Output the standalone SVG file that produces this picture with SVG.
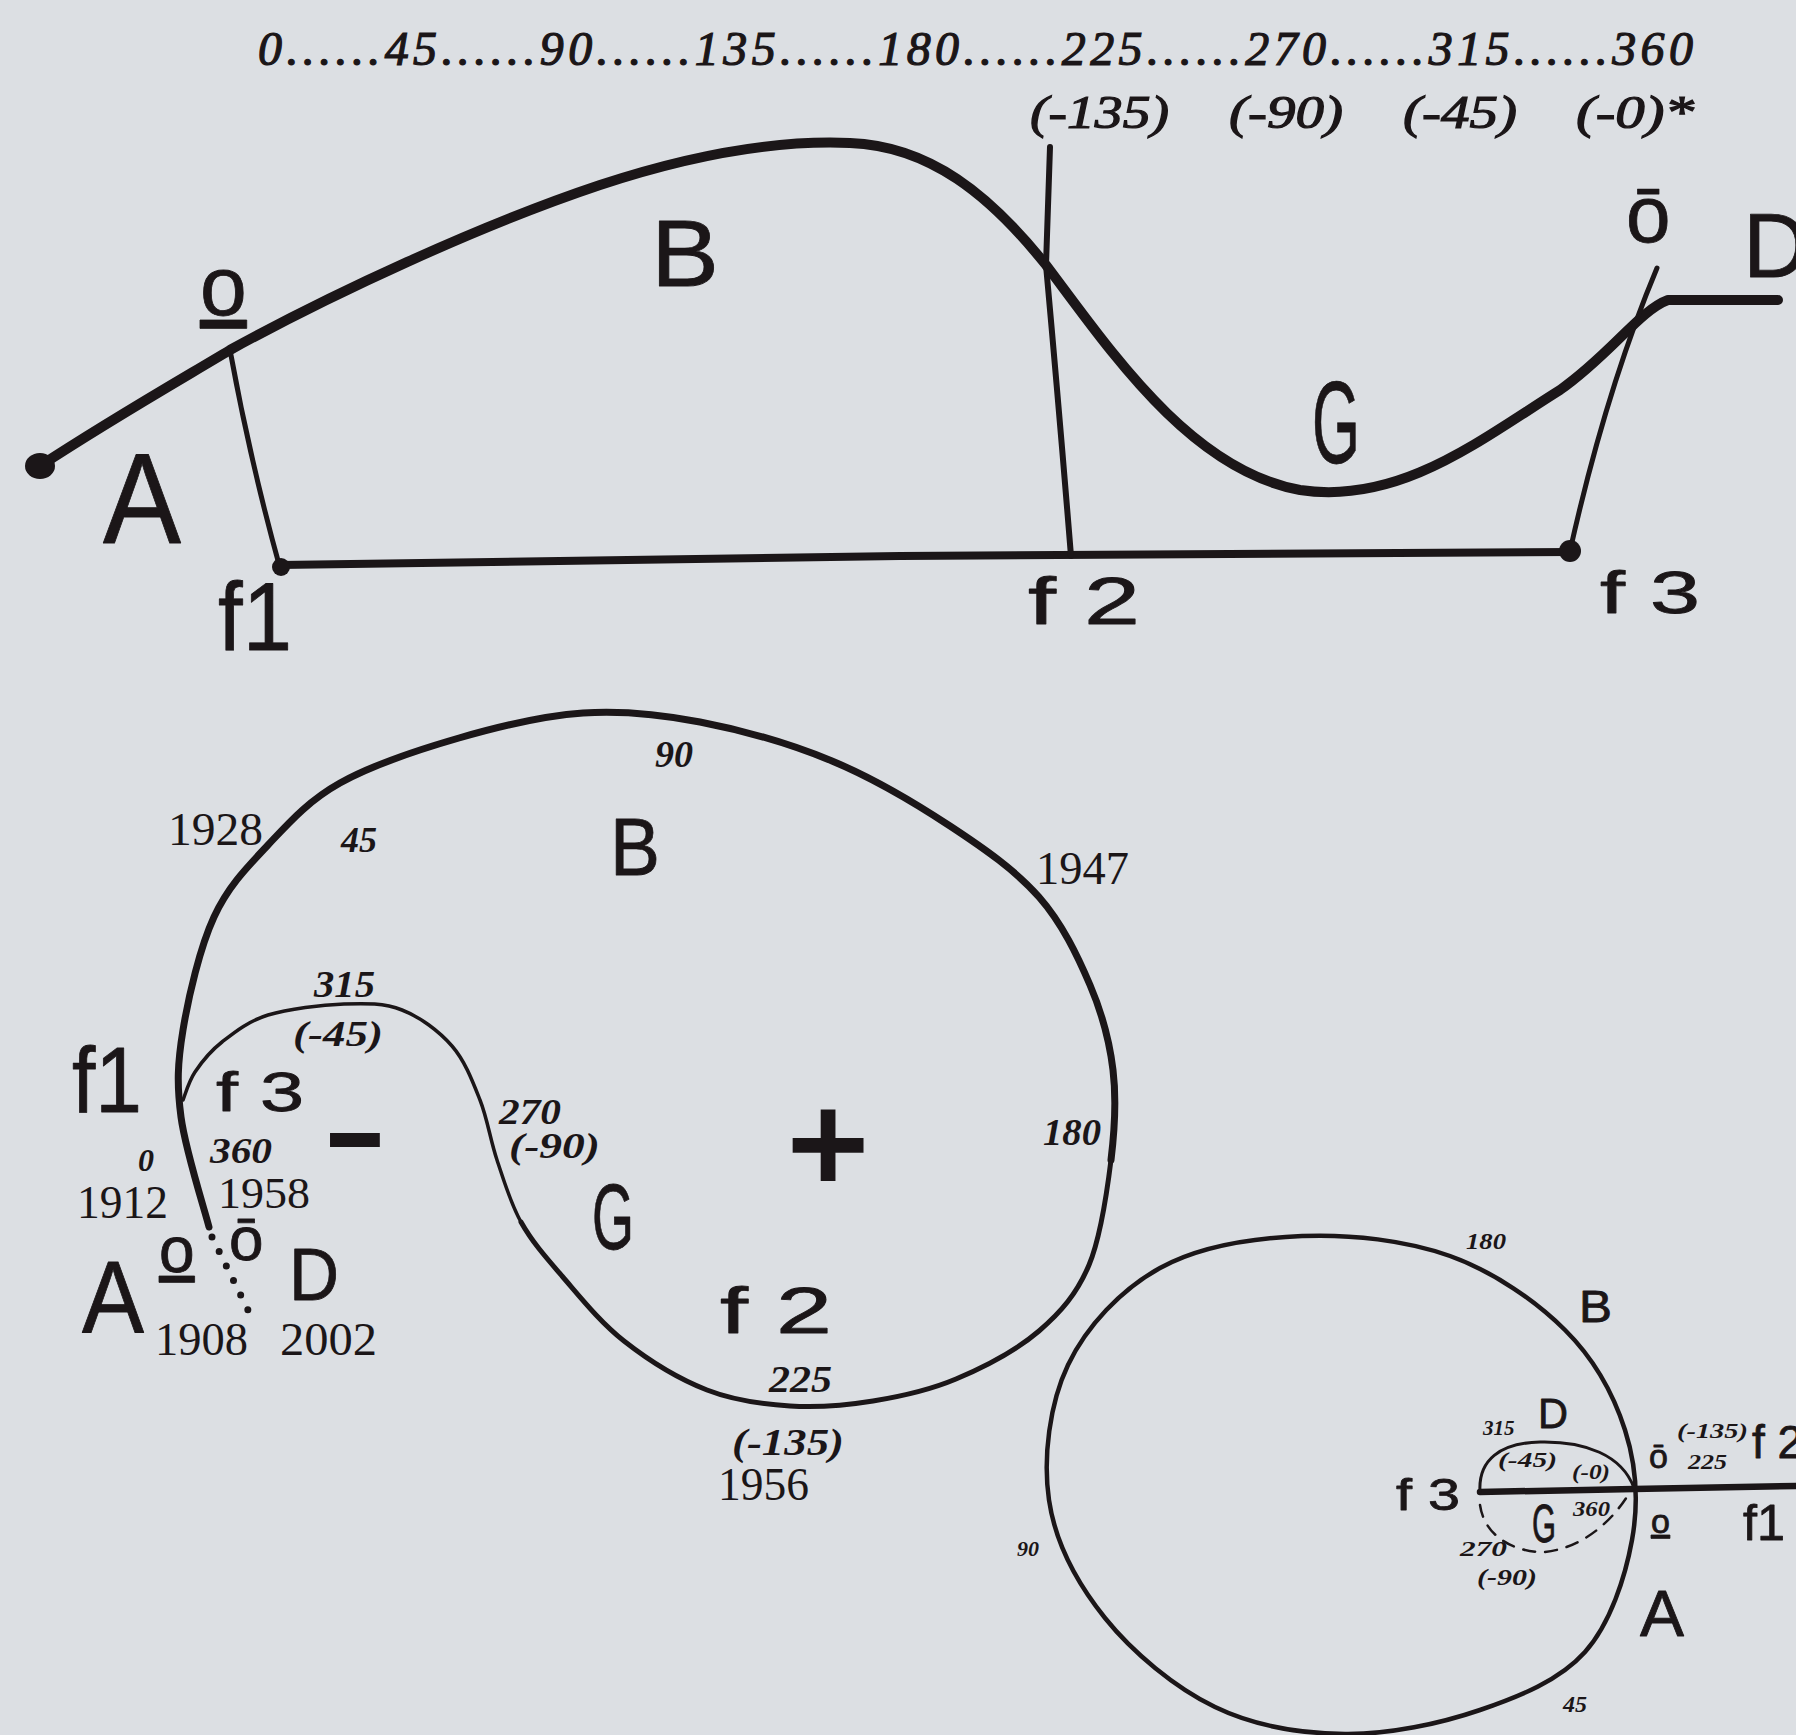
<svg xmlns="http://www.w3.org/2000/svg" width="1796" height="1735" viewBox="0 0 1796 1735">
<style>
.ink{fill:none;stroke:#1b1618;stroke-linecap:round;stroke-linejoin:round}
.dot{fill:#1b1618}
.hand{font-family:"Liberation Sans","DejaVu Sans",sans-serif;fill:#1b1618;stroke:#1b1618;stroke-width:0.8;stroke-linejoin:round}
.u{text-decoration:underline}
.ax{font-family:"Liberation Serif","DejaVu Serif",serif;font-style:italic;fill:#1b1618;stroke:#1b1618;stroke-width:1.2}
.bi{font-family:"Liberation Serif","DejaVu Serif",serif;font-style:italic;font-weight:bold;fill:#1b1618}
.yr{font-family:"Liberation Serif","DejaVu Serif",serif;fill:#1b1618}
.sym{font-family:"DejaVu Sans",sans-serif;font-weight:bold;fill:#1b1618;stroke:#1b1618;text-anchor:middle}
</style>
<rect width="1796" height="1735" fill="#dcdfe3"/>

<g id="connectors">
  <!-- top diagram -->
  <path class="ink" stroke-width="10" d="M40 466 C110 420 180 380 230 350 C330 295 480 225 600 185 C700 152 780 140 850 143 C930 146 990 195 1046 265 C1110 350 1190 470 1300 490 C1400 505 1480 440 1560 390 C1610 355 1640 310 1668 300 L1778 300"/>
  <path class="ink" stroke-width="5" d="M230 350 Q250 460 280 568"/>
  <path class="ink" stroke-width="8" d="M280 565 L900 556 L1571 552"/>
  <path class="ink" stroke-width="6" d="M1050 147 L1046 265 Q1060 420 1071 556"/>
  <path class="ink" stroke-width="5" d="M1570 551 Q1606 390 1657 268"/>
  <!-- spiral diagram -->
  <path class="ink" stroke-width="7" d="M209 1227 C204.3 1208.7 185.3 1149.8 181 1117 C176.7 1084.2 177.5 1063.3 183 1030 C188.5 996.7 199.8 947.8 214 917 C228.2 886.2 247 867.3 268 845 C289 822.7 308.2 800.8 340 783 C371.8 765.2 418.5 749.7 459 738 C499.5 726.3 542.8 715.7 583 713 C623.2 710.3 658.5 714 700 722 C741.5 730 790.3 743.7 832 761 C873.7 778.3 915.5 803.3 950 826 C984.5 848.7 1015.7 870.5 1039 897 C1062.3 923.5 1077.7 956.2 1090 985 C1102.3 1013.8 1109.5 1040.8 1113 1070 C1116.5 1099.2 1115 1127.5 1111 1160"/>
  <path class="ink" stroke-width="5" d="M1111 1160 C1107 1192.5 1101 1236.5 1089 1265 C1077 1293.5 1061.2 1312 1039 1331 C1016.8 1350 983.7 1367.3 956 1379 C928.3 1390.7 900.7 1396.5 873 1401 C845.3 1405.5 817.7 1407.8 790 1406 C762.3 1404.2 734.7 1400.8 707 1390 C679.3 1379.2 648.2 1360 624 1341 C599.8 1322 579.2 1295.8 562 1276 C544.8 1256.2 531.8 1241.3 521 1222"/>
  <path class="ink" stroke-width="3.5" d="M521 1222 C510.2 1202.7 503.8 1180.3 497 1160 C490.2 1139.7 487.5 1119 480 1100 C472.5 1081 465 1061 452 1046 C439 1031 420 1017 402 1010 C384 1003 366.3 1003.2 344 1004 C321.7 1004.8 288.3 1008.7 268 1015 C247.7 1021.3 234.2 1032.5 222 1042 C209.8 1051.5 201.5 1062.3 195 1072 C188.5 1081.7 185 1095.3 183 1100"/>
  <path class="ink" stroke-width="7" stroke-dasharray="0 16.2" d="M212 1237 L248 1310"/>
  <!-- circle diagram -->
  <path class="ink" stroke-width="4.5" d="M1302 1236 C1350.3 1234 1406.2 1240.3 1450 1256 C1493.8 1271.7 1535.8 1301 1565 1330 C1594.2 1359 1613.8 1395 1625 1430 C1636.2 1465 1638.7 1503 1632 1540 C1625.3 1577 1610.3 1623.7 1585 1652 C1559.7 1680.3 1520 1696.3 1480 1710 C1440 1723.7 1389.2 1734.5 1345 1734 C1300.8 1733.5 1255 1726.3 1215 1707 C1175 1687.7 1132.7 1652.5 1105 1618 C1077.3 1583.5 1055.2 1542.2 1049 1500 C1042.8 1457.8 1049.5 1403.7 1068 1365 C1086.5 1326.3 1121 1289.5 1160 1268 C1199 1246.5 1253.7 1238 1302 1236 Z"/>
  <path class="ink" stroke-width="6.5" d="M1480 1492 L1634 1489 L1796 1486"/>
  <path class="ink" stroke-width="3" d="M1480 1492 C1478 1460 1500 1443 1540 1442 C1585 1441 1622 1455 1634 1488"/>
  <path class="ink" stroke-width="2.5" stroke-dasharray="12 10" d="M1480 1505 C1485 1540 1520 1553 1545 1552 C1580 1548 1610 1525 1630 1492"/>
</g>

<g id="top-diagram">
  <ellipse class="dot" cx="40" cy="466" rx="15" ry="13"/>
  <circle class="dot" cx="281" cy="567" r="9"/>
  <circle class="dot" cx="1570" cy="551" r="11"/>
  <text class="ax" x="258" y="65" font-size="48" textLength="1435" lengthAdjust="spacing">0......45......90......135......180......225......270......315......360</text>
  <text class="ax" x="1030" y="128" font-size="46" textLength="139" lengthAdjust="spacingAndGlyphs">(-135)</text>
  <text class="ax" x="1229" y="128" font-size="46" textLength="114" lengthAdjust="spacingAndGlyphs">(-90)</text>
  <text class="ax" x="1403" y="128" font-size="46" textLength="114" lengthAdjust="spacingAndGlyphs">(-45)</text>
  <text class="ax" x="1576" y="128" font-size="46" textLength="118" lengthAdjust="spacingAndGlyphs">(-0)*</text>
  <text class="hand" x="103" y="543" font-size="128" textLength="78" lengthAdjust="spacingAndGlyphs">A</text>
  <text class="hand" x="651" y="286" font-size="95" textLength="68" lengthAdjust="spacingAndGlyphs">B</text>
  <text class="hand" x="1312" y="463" font-size="116" textLength="48" lengthAdjust="spacingAndGlyphs">G</text>
  <text class="hand" x="1743" y="277" font-size="91">D</text>
  <text class="hand u" x="200" y="315" font-size="84">o</text>
  <text class="hand" x="1626" y="242" font-size="80">ō</text>
  <text class="hand" x="218" y="650" font-size="96" textLength="74" lengthAdjust="spacingAndGlyphs">f1</text>
  <text class="hand" x="1028" y="624" font-size="66" textLength="112" lengthAdjust="spacingAndGlyphs">f 2</text>
  <text class="hand" x="1600" y="613" font-size="60" textLength="100" lengthAdjust="spacingAndGlyphs">f 3</text>
</g>

<g id="spiral-diagram">
  <text class="yr" x="168" y="845" font-size="47" textLength="95" lengthAdjust="spacingAndGlyphs">1928</text>
  <text class="bi" x="341" y="852" font-size="36">45</text>
  <text class="bi" x="655" y="767" font-size="38">90</text>
  <text class="hand" x="610" y="875" font-size="82" textLength="50" lengthAdjust="spacingAndGlyphs">B</text>
  <text class="yr" x="1036" y="884" font-size="47" textLength="93" lengthAdjust="spacingAndGlyphs">1947</text>
  <text class="bi" x="314" y="997" font-size="37" textLength="61" lengthAdjust="spacingAndGlyphs">315</text>
  <text class="bi" x="293" y="1046" font-size="36" textLength="90" lengthAdjust="spacingAndGlyphs">(-45)</text>
  <text class="hand" x="72" y="1112" font-size="92" textLength="70" lengthAdjust="spacingAndGlyphs">f1</text>
  <text class="hand" x="216" y="1111" font-size="56" textLength="88" lengthAdjust="spacingAndGlyphs">f 3</text>
  <text class="sym" x="355" y="1162" font-size="70" stroke-width="6">−</text>
  <text class="sym" x="828" y="1180" font-size="110" stroke-width="2">+</text>
  <text class="bi" x="138" y="1171" font-size="32">0</text>
  <text class="bi" x="210" y="1163" font-size="36" textLength="62" lengthAdjust="spacingAndGlyphs">360</text>
  <text class="yr" x="77" y="1218" font-size="47" textLength="91" lengthAdjust="spacingAndGlyphs">1912</text>
  <text class="yr" x="218" y="1208" font-size="45" textLength="92" lengthAdjust="spacingAndGlyphs">1958</text>
  <text class="hand u" x="159" y="1272" font-size="64">o</text>
  <text class="hand" x="229" y="1260" font-size="62">ō</text>
  <text class="hand" x="289" y="1300" font-size="74" textLength="50" lengthAdjust="spacingAndGlyphs">D</text>
  <text class="hand" x="82" y="1333" font-size="102" textLength="62" lengthAdjust="spacingAndGlyphs">A</text>
  <text class="yr" x="155" y="1355" font-size="47" textLength="93" lengthAdjust="spacingAndGlyphs">1908</text>
  <text class="yr" x="280" y="1355" font-size="47" textLength="97" lengthAdjust="spacingAndGlyphs">2002</text>
  <text class="bi" x="499" y="1124" font-size="35" textLength="62" lengthAdjust="spacingAndGlyphs">270</text>
  <text class="bi" x="509" y="1158" font-size="35" textLength="91" lengthAdjust="spacingAndGlyphs">(-90)</text>
  <text class="hand" x="592" y="1249" font-size="92" textLength="42" lengthAdjust="spacingAndGlyphs">G</text>
  <text class="bi" x="1043" y="1145" font-size="38" textLength="58" lengthAdjust="spacingAndGlyphs">180</text>
  <text class="hand" x="720" y="1333" font-size="64" textLength="112" lengthAdjust="spacingAndGlyphs">f 2</text>
  <text class="bi" x="769" y="1392" font-size="38" textLength="63" lengthAdjust="spacingAndGlyphs">225</text>
  <text class="bi" x="732" y="1455" font-size="38" textLength="112" lengthAdjust="spacingAndGlyphs">(-135)</text>
  <text class="yr" x="718" y="1500" font-size="47" textLength="91" lengthAdjust="spacingAndGlyphs">1956</text>
</g>

<g id="circle-diagram">
  <text class="bi" x="1466" y="1249" font-size="24" textLength="40" lengthAdjust="spacingAndGlyphs">180</text>
  <text class="hand" x="1579" y="1322" font-size="45" textLength="33" lengthAdjust="spacingAndGlyphs">B</text>
  <text class="bi" x="1017" y="1556" font-size="22">90</text>
  <text class="bi" x="1563" y="1712" font-size="24">45</text>
  <text class="bi" x="1483" y="1435" font-size="21">315</text>
  <text class="hand" x="1538" y="1428" font-size="43" textLength="30" lengthAdjust="spacingAndGlyphs">D</text>
  <text class="bi" x="1498" y="1467" font-size="22" textLength="59" lengthAdjust="spacingAndGlyphs">(-45)</text>
  <text class="bi" x="1572" y="1479" font-size="20" textLength="38" lengthAdjust="spacingAndGlyphs">(-0)</text>
  <text class="hand" x="1649" y="1468" font-size="34">ō</text>
  <text class="bi" x="1677" y="1438" font-size="22" textLength="71" lengthAdjust="spacingAndGlyphs">(-135)</text>
  <text class="bi" x="1688" y="1469" font-size="22" textLength="39" lengthAdjust="spacingAndGlyphs">225</text>
  <text class="hand" x="1752" y="1458" font-size="46">f 2</text>
  <text class="hand" x="1396" y="1510" font-size="44" textLength="64" lengthAdjust="spacingAndGlyphs">f 3</text>
  <text class="hand" x="1743" y="1540" font-size="50" textLength="42" lengthAdjust="spacingAndGlyphs">f1</text>
  <text class="hand u" x="1651" y="1533" font-size="34">o</text>
  <text class="hand" x="1532" y="1542" font-size="54" textLength="24" lengthAdjust="spacingAndGlyphs">G</text>
  <text class="bi" x="1573" y="1516" font-size="22" textLength="37" lengthAdjust="spacingAndGlyphs">360</text>
  <text class="bi" x="1460" y="1556" font-size="22" textLength="47" lengthAdjust="spacingAndGlyphs">270</text>
  <text class="bi" x="1477" y="1585" font-size="24" textLength="60" lengthAdjust="spacingAndGlyphs">(-90)</text>
  <text class="hand" x="1640" y="1636" font-size="64" textLength="44" lengthAdjust="spacingAndGlyphs">A</text>
</g>
</svg>
